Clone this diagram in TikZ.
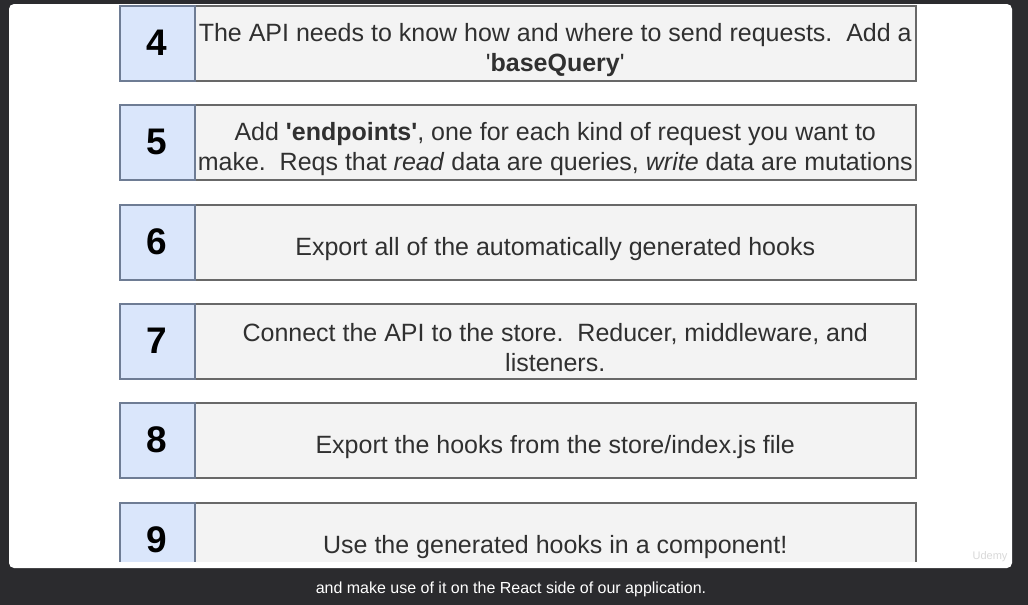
\documentclass[tikz,border=0pt]{standalone}
\usepackage{fontspec}
\setmainfont{Liberation Sans}
\definecolor{bgdark}{HTML}{2B2B2E}
\definecolor{numfill}{HTML}{DAE6FB}
\definecolor{numborder}{HTML}{6E7C94}
\definecolor{txtfill}{HTML}{F3F3F3}
\definecolor{txtborder}{HTML}{686868}
\definecolor{txtcol}{HTML}{303030}
\begin{document}
\begin{tikzpicture}[x=1pt,y=-1pt,
  numbox/.style={draw=numborder, fill=numfill, line width=1.5pt, minimum width=75pt, minimum height=75pt, inner sep=0pt, anchor=north west, font=\fontsize{37}{37}\selectfont\bfseries, text=black},
  txtbox/.style={draw=txtborder, fill=txtfill, line width=1.5pt, minimum width=721pt, minimum height=75pt, inner sep=0pt, anchor=north west},
  txtlabel/.style={inner sep=0pt, font=\fontsize{25}{30}\selectfont, text=txtcol, align=center, yshift=-6.5pt},
  caption/.style={font=\fontsize{16}{19}\selectfont, text=white}]
\useasboundingbox (0,0) rectangle (1028,605);
\fill[bgdark] (0,0) rectangle (1028,605);
\fill[white, rounded corners=5pt] (9,4) rectangle (1012,568);
\begin{scope}
\clip (9,4) rectangle (1012,561);
\node[txtbox] (t4) at (194,5) {};
\node[txtlabel] (l4) at (t4.center) {The API needs to know how and where to send requests.\ \ Add a\\\textquotesingle\textbf{baseQuery}\textquotesingle};
\node[numbox] (n4) at (119,5) {4};
\node[txtbox] (t5) at (194,104) {};
\node[txtlabel] (l5) at (t5.center) {Add \textbf{\textquotesingle endpoints\textquotesingle}, one for each kind of request you want to\\make.\ \ Reqs that \textit{read} data are queries, \textit{write} data are mutations};
\node[numbox] (n5) at (119,104) {5};
\node[txtbox] (t6) at (194,204) {};
\node[txtlabel] (l6) at (t6.center) {Export all of the automatically generated hooks};
\node[numbox] (n6) at (119,204) {6};
\node[txtbox] (t7) at (194,303) {};
\node[txtlabel] (l7) at (t7.center) {Connect the API to the store.\ \ Reducer, middleware, and\\listeners.};
\node[numbox] (n7) at (119,303) {7};
\node[txtbox] (t8) at (194,402) {};
\node[txtlabel] (l8) at (t8.center) {Export the hooks from the store/index.js file};
\node[numbox] (n8) at (119,402) {8};
\node[txtbox] (t9) at (194,502) {};
\node[txtlabel] (l9) at (t9.center) {Use the generated hooks in a component!};
\node[numbox] (n9) at (119,502) {9};
\end{scope}
\node[font=\fontsize{11}{13}\selectfont, text=black!15] (wm) at (990,557) {Udemy};
\node[caption] (cap) at (511,589) {and make use of it on the React side of our application.};
\end{tikzpicture}
\end{document}
